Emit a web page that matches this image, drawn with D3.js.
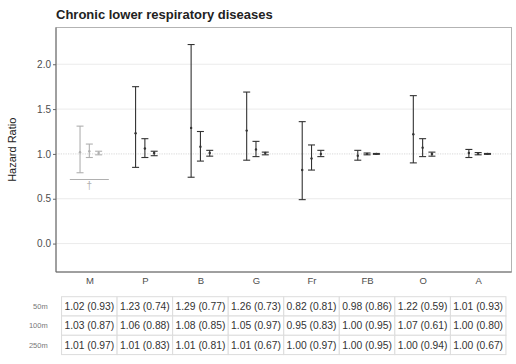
<!DOCTYPE html>
<html>
<head>
<meta charset="utf-8">
<title>Chronic lower respiratory diseases</title>
<script src="https://d3js.org/d3.v7.min.js"></script>
<style>
    html, body { margin: 0; padding: 0; background: #fff; overflow: hidden; }
    svg { font-family: "Liberation Sans", Arial, sans-serif; }
</style>
</head>
<body>
<svg id="chart" width="516" height="364"></svg>
<script>
    // categories and buffer radii
    const categories = ['M', 'P', 'B', 'G', 'Fr', 'FB', 'O', 'A'];
    const radii = ['50m', '100m', '250m'];
    const mutedCategories = ['M'];

    // hazard ratios, confidence limits and p-values per radius
    const hr50  = [1.02, 1.23, 1.29, 1.26, 0.82, 0.98, 1.22, 1.01];
    const lo50  = [0.79, 0.85, 0.74, 0.93, 0.49, 0.93, 0.90, 0.96];
    const hi50  = [1.31, 1.75, 2.22, 1.69, 1.36, 1.04, 1.65, 1.05];
    const p50   = [0.93, 0.74, 0.77, 0.73, 0.81, 0.86, 0.59, 0.93];

    const hr100 = [1.03, 1.06, 1.08, 1.05, 0.95, 1.00, 1.07, 1.00];
    const lo100 = [0.96, 0.96, 0.92, 0.97, 0.82, 0.99, 0.97, 0.99];
    const hi100 = [1.11, 1.17, 1.25, 1.14, 1.10, 1.01, 1.17, 1.015];
    const p100  = [0.87, 0.88, 0.85, 0.97, 0.83, 0.95, 0.61, 0.80];

    const hr250 = [1.01, 1.01, 1.01, 1.01, 1.00, 1.00, 1.00, 1.00];
    const lo250 = [0.99, 0.98, 0.975, 0.99, 0.97, 0.995, 0.975, 0.995];
    const hi250 = [1.03, 1.03, 1.04, 1.02, 1.04, 1.005, 1.02, 1.005];
    const p250  = [0.97, 0.83, 0.81, 0.67, 0.97, 0.95, 0.94, 0.67];

    const yTicks = [0, 0.5, 1.0, 1.5, 2.0];
    // reference marker drawn under M
    const markerCategory = 'M';
    const markerValue = 0.715;

    const series = [
        {radius: '50m', hr: hr50, lo: lo50, hi: hi50, p: p50},
        {radius: '100m', hr: hr100, lo: lo100, hi: hi100, p: p100},
        {radius: '250m', hr: hr250, lo: lo250, hi: hi250, p: p250}
    ];

    const panel = {left: 56, right: 511.5, top: 27.5, bottom: 272};
    const svg = d3.select('#chart');

    const x = d3.scalePoint()
        .domain(categories)
        .range([panel.left, panel.right])
        .padding(0.6);
    const dodge = d3.scalePoint()
        .domain(radii)
        .range([-9.3, 9.3]);
    const y = d3.scaleLinear()
        .domain([-0.317, 2.41])
        .range([panel.bottom, panel.top]);

    // title
    svg.append('text')
        .attr('x', 56)
        .attr('y', 18.5)
        .attr('font-size', 13)
        .attr('font-weight', 'bold')
        .attr('fill', '#222')
        .text('Chronic lower respiratory diseases');

    // grid
    svg.append('g')
        .selectAll('line')
        .data(yTicks.filter(t => t !== 1))
        .join('line')
        .attr('x1', panel.left).attr('x2', panel.right)
        .attr('y1', d => y(d)).attr('y2', d => y(d))
        .attr('stroke', '#ebebeb')
        .attr('stroke-width', 1);
    svg.append('line')
        .attr('x1', panel.left).attr('x2', panel.right)
        .attr('y1', y(1)).attr('y2', y(1))
        .attr('stroke', '#bdbdbd')
        .attr('stroke-width', 0.6)
        .attr('stroke-dasharray', '1.2,1.2');

    // panel border
    svg.append('rect')
        .attr('x', panel.left).attr('y', panel.top)
        .attr('width', panel.right - panel.left)
        .attr('height', panel.bottom - panel.top)
        .attr('fill', 'none')
        .attr('stroke', '#b3b3b3')
        .attr('stroke-width', 1);

    // y axis
    const yAxis = svg.append('g')
        .attr('transform', `translate(${panel.left},0)`)
        .call(d3.axisLeft(y).tickValues(yTicks).tickFormat(d3.format('.1f')).tickSize(3).tickPadding(2));
    yAxis.select('.domain').attr('stroke', '#666').attr('d', `M0,${panel.top}V${panel.bottom}`);
    yAxis.selectAll('.tick line').attr('stroke', '#666');
    yAxis.selectAll('.tick text').attr('fill', '#4d4d4d').attr('font-size', 10).attr('font-family', null);

    // x axis
    const xAxis = svg.append('g')
        .attr('transform', `translate(0,${panel.bottom})`)
        .call(d3.axisBottom(x).tickSize(0).tickPadding(5));
    xAxis.select('.domain').attr('stroke', '#666').attr('d', `M${panel.left},0H${panel.right}`);
    xAxis.selectAll('.tick text').attr('fill', '#4d4d4d').attr('font-size', 9.5).attr('font-family', null);

    svg.append('text')
        .attr('transform', `translate(16,${(panel.top + panel.bottom) / 2}) rotate(-90)`)
        .attr('text-anchor', 'middle')
        .attr('font-size', 11)
        .attr('fill', '#222')
        .text('Hazard Ratio');

    // error bars
    const bars = [];
    series.forEach(s => {
        categories.forEach((c, i) => {
            bars.push({cat: c, radius: s.radius, hr: s.hr[i], lo: s.lo[i], hi: s.hi[i]});
        });
    });
    const capHalf = 3.5;
    const color = d => mutedCategories.includes(d.cat) ? '#b0b0b0' : '#333';

    const g = svg.append('g')
        .selectAll('g.bar')
        .data(bars)
        .join('g')
        .attr('class', 'bar')
        .attr('transform', d => `translate(${x(d.cat) + dodge(d.radius)},0)`)
        .attr('stroke', color)
        .attr('fill', color);
    g.append('line')
        .attr('y1', d => y(d.lo)).attr('y2', d => y(d.hi))
        .attr('stroke-width', 1.1);
    g.append('line')
        .attr('x1', -capHalf).attr('x2', capHalf)
        .attr('y1', d => y(d.hi)).attr('y2', d => y(d.hi))
        .attr('stroke-width', 1.1);
    g.append('line')
        .attr('x1', -capHalf).attr('x2', capHalf)
        .attr('y1', d => y(d.lo)).attr('y2', d => y(d.lo))
        .attr('stroke-width', 1.1);
    g.append('circle')
        .attr('cy', d => y(d.hr))
        .attr('r', 1.2)
        .attr('stroke', 'none');

    // reference marker under M
    const mx = x(markerCategory);
    svg.append('line')
        .attr('x1', mx - 19.5).attr('x2', mx + 19.5)
        .attr('y1', y(markerValue)).attr('y2', y(markerValue))
        .attr('stroke', '#b0b0b0')
        .attr('stroke-width', 1.1);
    svg.append('text')
        .attr('x', mx)
        .attr('y', y(markerValue) + 10)
        .attr('text-anchor', 'middle')
        .attr('font-size', 10)
        .attr('fill', '#b0b0b0')
        .text('\u2020');

    // table of HR (p)
    const step = x.step();
    const rowTop = 296.7;
    const rowH = 19.3;
    const table = svg.append('g');
    series.forEach((s, r) => {
        const ry = rowTop + r * rowH;
        table.append('text')
            .attr('x', 47.7)
            .attr('y', ry + rowH / 2)
            .attr('dy', '0.35em')
            .attr('text-anchor', 'end')
            .attr('font-size', 7.5)
            .attr('fill', '#777')
            .text(s.radius);
        table.selectAll(null)
            .data(categories)
            .join('rect')
            .attr('x', c => x(c) - step / 2)
            .attr('y', ry)
            .attr('width', step)
            .attr('height', rowH)
            .attr('fill', '#fff')
            .attr('stroke', '#dcdcdc')
            .attr('stroke-width', 1);
        table.selectAll(null)
            .data(categories)
            .join('text')
            .attr('x', c => x(c))
            .attr('y', ry + rowH / 2)
            .attr('dy', '0.35em')
            .attr('text-anchor', 'middle')
            .attr('font-size', 10.3)
            .attr('fill', '#333')
            .text((c, i) => `${s.hr[i].toFixed(2)} (${s.p[i].toFixed(2)})`);
    });
</script>
</body>
</html>
